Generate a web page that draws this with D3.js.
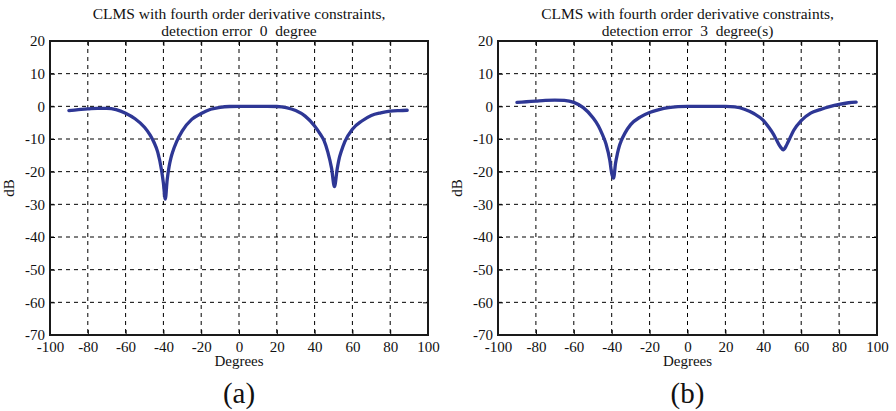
<!DOCTYPE html>
<html>
<head>
<meta charset="utf-8">
<script src="https://cdn.jsdelivr.net/npm/d3@7"></script>
<style>
    body { margin: 0; background: #fff; }
    svg { display: block; }
    svg text { font-family: "Liberation Serif", "Times New Roman", serif; fill: #111; }
</style>
</head>
<body>
<div id="chart"></div>
<script>
// angles (degrees) shared by both panels
const angles = [-90, -85, -80, -75, -70, -65, -60, -55, -50,
    -47, -45, -43, -41, -40, -39, -38, -37, -36, -35, -33, -30,
    -25, -20, -15, -10, -5, 0, 5, 10, 15, 20,
    25, 30, 35, 40, 43, 45, 47, 49, 50.5, 52, 53,
    54, 56, 60, 65, 70, 75, 80, 85, 89];

// (a) detection error 0 degree
const gainA = [-1.3, -1.0, -0.8, -0.6, -0.6, -1.0, -2.1, -3.8, -6.4,
    -8.8, -11, -14, -19.5, -23.5, -28.4, -22.5, -18.5, -15.8, -13.8, -10.8, -7.5,
    -4, -2.2, -0.9, -0.3, -0.05, 0, 0, 0, 0, -0.05,
    -0.4, -1.3, -3, -6, -8.5, -10.5, -14, -19, -24.6, -19, -16,
    -14, -10.8, -7, -4.5, -2.8, -2.0, -1.5, -1.3, -1.2];

// (b) detection error 3 degree(s)
const gainB = [1.2, 1.4, 1.6, 1.8, 1.9, 1.8, 1.2, -0.4, -3.4,
    -6, -8.5, -11.5, -16.5, -20.5, -22, -17.5, -14.5, -12.2, -10.6, -8.2, -5.6,
    -3.3, -1.9, -1.0, -0.4, -0.1, 0, 0, 0, 0, 0,
    -0.2, -0.9, -2.2, -4.3, -6.5, -8.2, -10.3, -12.4, -13.3, -12.2, -11,
    -9.8, -7.4, -4.4, -2.1, -1.0, -0.1, 0.6, 1.1, 1.3];

const xTicks = [-100, -80, -60, -40, -20, 0, 20, 40, 60, 80, 100];
const yTicks = [20, 10, 0, -10, -20, -30, -40, -50, -60, -70];

const titlesLine1 = ["CLMS with fourth order derivative constraints,", "CLMS with fourth order derivative constraints,"];
const titlesLine2 = ["detection error  0  degree", "detection error  3  degree(s)"];
const captions = ["(a)", "(b)"];

const W = 896, H = 411;

const svg = d3.select("#chart")
    .append("svg")
    .attr("width", W)
    .attr("height", H);

const panel = (props) => {
    const { left, right, top, bottom, gain, title1, title2, caption } = props;

    const xScale = d3.scaleLinear().domain([-100, 100]).range([left, right]);
    const yScale = d3.scaleLinear().domain([-70, 20]).range([bottom, top]);

    const g = svg.append("g");

    // Grid
    g.append("g")
        .selectAll("line")
        .data(xTicks.slice(1, -1))
        .enter()
        .append("line")
        .attr("x1", d => xScale(d)).attr("x2", d => xScale(d))
        .attr("y1", top).attr("y2", bottom)
        .attr("stroke", "#000")
        .attr("stroke-width", 1)
        .attr("stroke-dasharray", "4,4");

    g.append("g")
        .selectAll("line")
        .data(yTicks.slice(1, -1))
        .enter()
        .append("line")
        .attr("y1", d => yScale(d)).attr("y2", d => yScale(d))
        .attr("x1", left).attr("x2", right)
        .attr("stroke", "#000")
        .attr("stroke-width", 1)
        .attr("stroke-dasharray", "4,4");

    // Axes (inward ticks on all sides), hyphen minus like the original
    const fmt = d => String(d);
    const axisStyle = (sel) => {
        sel.attr("font-family", null).attr("font-size", null);
        sel.select(".domain").remove();
        sel.selectAll("line").attr("stroke", "#000").attr("stroke-width", 1);
        sel.selectAll("text").style("font-size", "15px");
    };

    g.append("g")
        .attr("transform", "translate(0," + bottom + ")")
        .call(d3.axisBottom(xScale).tickValues(xTicks).tickSizeInner(-5).tickSizeOuter(0).tickPadding(6).tickFormat(fmt))
        .call(axisStyle);

    g.append("g")
        .attr("transform", "translate(0," + top + ")")
        .call(d3.axisTop(xScale).tickValues(xTicks).tickSizeInner(-5).tickSizeOuter(0).tickFormat(""))
        .call(axisStyle);

    g.append("g")
        .attr("transform", "translate(" + left + ",0)")
        .call(d3.axisLeft(yScale).tickValues(yTicks).tickSizeInner(-5).tickSizeOuter(0).tickPadding(5).tickFormat(fmt))
        .call(axisStyle);

    g.append("g")
        .attr("transform", "translate(" + right + ",0)")
        .call(d3.axisRight(yScale).tickValues(yTicks).tickSizeInner(-5).tickSizeOuter(0).tickFormat(""))
        .call(axisStyle);

    // Box
    g.append("rect")
        .attr("x", left).attr("y", top)
        .attr("width", right - left).attr("height", bottom - top)
        .attr("fill", "none")
        .attr("stroke", "#1a1a1a")
        .attr("stroke-width", 2);

    // Curve
    const points = angles.map((a, i) => [a, gain[i]]);
    g.append("path")
        .datum(points)
        .attr("fill", "none")
        .attr("stroke", "#2e3795")
        .attr("stroke-width", 3.3)
        .attr("stroke-linejoin", "round")
        .attr("stroke-linecap", "round")
        .attr("d", d3.line()
            .x(d => xScale(d[0]))
            .y(d => yScale(d[1]))
            .curve(d3.curveMonotoneX));

    // Labels
    const cx = (left + right) / 2;
    g.append("text")
        .attr("x", cx).attr("y", 19)
        .attr("text-anchor", "middle")
        .style("font-size", "15.5px")
        .text(title1);

    g.append("text")
        .attr("x", cx).attr("y", 36)
        .attr("text-anchor", "middle")
        .style("font-size", "15.5px")
        .style("white-space", "pre")
        .text(title2);

    g.append("text")
        .attr("x", cx).attr("y", 366)
        .attr("text-anchor", "middle")
        .style("font-size", "15px")
        .text("Degrees");

    g.append("text")
        .attr("transform", "translate(" + (left - 36) + "," + ((top + bottom) / 2) + ") rotate(-90)")
        .attr("text-anchor", "middle")
        .style("font-size", "15px")
        .text("dB");

    g.append("text")
        .attr("x", cx).attr("y", 403)
        .attr("text-anchor", "middle")
        .style("font-size", "29px")
        .text(caption);
};

panel({ left: 50, right: 428, top: 41, bottom: 335, gain: gainA,
    title1: titlesLine1[0], title2: titlesLine2[0], caption: captions[0] });

panel({ left: 498, right: 877, top: 41, bottom: 335, gain: gainB,
    title1: titlesLine1[1], title2: titlesLine2[1], caption: captions[1] });
</script>
</body>
</html>
